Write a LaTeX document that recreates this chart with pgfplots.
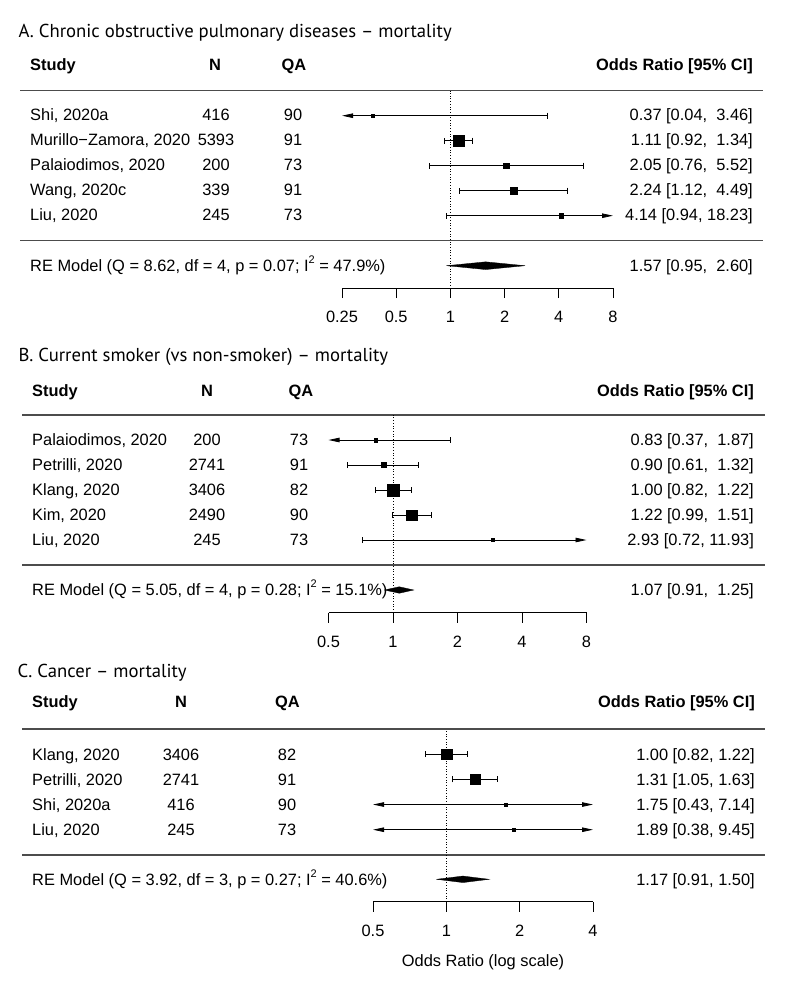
\documentclass[border=0pt]{standalone}
\usepackage{fontspec}
\setmainfont{Liberation Sans}
\newfontfamily\titlefont{PT Sans}
\usepackage{pgfplots}
\pgfplotsset{compat=1.18}
\usetikzlibrary{arrows.meta}
\newcommand\fs{\fontsize{16.4}{19}\selectfont}
\newcommand\tfs{\titlefont\fontsize{18.7}{21}\selectfont}
\pgfplotsset{
  every axis/.append style={
    scale only axis, anchor=south west,
    axis x line*=bottom, axis y line=none,
    tick align=outside, major tick length=10pt,
    axis line style={black, line width=0.8pt},
    xtick style={black, line width=0.8pt},
    clip=false, enlargelimits=false,
    xticklabel style={font=\fs, anchor=base, inner sep=0pt, yshift=-24.5pt},
  },
}
\tikzset{
  ci/.style={black, line width=0.8pt},
  sq/.style={only marks, mark=square*, black},
  dia/.style={fill=black, draw=black, line width=0.3pt},
  refl/.style={black, dotted, line width=0.7pt},
  L/.style={anchor=base west, inner sep=0pt},
  C/.style={anchor=base, inner sep=0pt},
  R/.style={anchor=base east, inner sep=0pt},
  sep/.style={black!70, line width=1.3pt},
  BB/.style={arrows={Bar[width=6pt]-Bar[width=6pt]}},
  TB/.style={arrows={Triangle[length=11pt,width=4.5pt]-Bar[width=6pt]}},
  BT/.style={arrows={Bar[width=6pt]-Triangle[length=11pt,width=4.5pt]}},
  TT/.style={arrows={Triangle[length=11pt,width=4.5pt]-Triangle[length=11pt,width=4.5pt]}},
}
\newcommand\sqd[1]{\raisebox{0.45em}{\fontsize{11}{11}\selectfont #1}}
\begin{document}
\begin{tikzpicture}[x=1pt, y=-1pt, font=\fs]
\useasboundingbox (0,0) rectangle (787,984);

% ================= Panel A =================
\node[L, font=\tfs] at (18.3,38) {A. Chronic obstructive pulmonary diseases – mortality};
\node[L, font=\fs\bfseries] at (30,71) {Study};
\node[C, font=\fs\bfseries] at (215,71) {N};
\node[C, font=\fs\bfseries] at (294,71) {QA};
\node[R, font=\fs\bfseries] at (753,71) {Odds Ratio [95\% CI]};
\draw[sep] (20,90.7) -- (763,90.7);
\draw[sep] (20,240.7) -- (763,240.7);
\node[L] at (30,121) {Shi, 2020a};            \node[C] at (216,121) {416};  \node[C] at (293,121) {90};
\node[L] at (30,146) {Murillo−Zamora, 2020};  \node[C] at (216,146) {5393}; \node[C] at (293,146) {91};
\node[L] at (30,171) {Palaiodimos, 2020};     \node[C] at (216,171) {200};  \node[C] at (293,171) {73};
\node[L] at (30,196) {Wang, 2020c};           \node[C] at (216,196) {339};  \node[C] at (293,196) {91};
\node[L] at (30,221) {Liu, 2020};             \node[C] at (216,221) {245};  \node[C] at (293,221) {73};
\node[R] at (753,121) {0.37 [0.04,~~3.46]};
\node[R] at (753,146) {1.11 [0.92,~~1.34]};
\node[R] at (753,171) {2.05 [0.76,~~5.52]};
\node[R] at (753,196) {2.24 [1.12,~~4.49]};
\node[R] at (753,221) {4.14 [0.94, 18.23]};
\node[L] at (30,271) {RE Model (Q = 8.62, df = 4, p = 0.07; I\sqd{2} = 47.9\%)};
\node[R] at (753,271) {1.57 [0.95,~~2.60]};

\begin{axis}[xmode=log, log basis x=2, at={(342pt,-288.2pt)}, width=271pt, height=197.5pt,
  xmin=0.25, xmax=8, ymin=-1.9, ymax=6,
  xtick={0.25,0.5,1,2,4,8}, xticklabels={0.25,0.5,1,2,4,8}]
\addplot[refl] coordinates {(1,-1.9) (1,6)};
% study CIs (clipped at axis limits with arrows)
\addplot[ci, TB] coordinates {(0.25,5) (3.46,5)};   % 0.04 - 3.46
\addplot[ci, BB] coordinates {(0.92,4) (1.34,4)};
\addplot[ci, BB] coordinates {(0.76,3) (5.52,3)};
\addplot[ci, BB] coordinates {(1.12,2) (4.49,2)};
\addplot[ci, BT] coordinates {(0.94,1) (8,1)};      % 0.94 - 18.23
\addplot[sq, mark size=1.5pt] coordinates {(0.37,5)};
\addplot[sq, mark size=5.3pt] coordinates {(1.11,4)};
\addplot[sq, mark size=2.9pt] coordinates {(2.05,3)};
\addplot[sq, mark size=3.4pt] coordinates {(2.24,2)};
\addplot[sq, mark size=2.2pt] coordinates {(4.14,1)};
\addplot[dia] coordinates {(0.95,-1) (1.57,-0.845) (2.60,-1) (1.57,-1.155) (0.95,-1)};
\end{axis}

% ================= Panel B =================
\node[L, font=\tfs] at (18.3,361.5) {B. Current smoker (vs non-smoker) – mortality};
\node[L, font=\fs\bfseries] at (32,396) {Study};
\node[C, font=\fs\bfseries] at (207,396) {N};
\node[C, font=\fs\bfseries] at (301,396) {QA};
\node[R, font=\fs\bfseries] at (754,396) {Odds Ratio [95\% CI]};
\draw[sep] (22,415) -- (765,415);
\draw[sep] (22,565) -- (765,565);
\node[L] at (32,445.3) {Palaiodimos, 2020}; \node[C] at (207,445.3) {200};  \node[C] at (299,445.3) {73};
\node[L] at (32,470.3) {Petrilli, 2020};    \node[C] at (207,470.3) {2741}; \node[C] at (299,470.3) {91};
\node[L] at (32,495.3) {Klang, 2020};       \node[C] at (207,495.3) {3406}; \node[C] at (299,495.3) {82};
\node[L] at (32,520.3) {Kim, 2020};         \node[C] at (207,520.3) {2490}; \node[C] at (299,520.3) {90};
\node[L] at (32,545.3) {Liu, 2020};         \node[C] at (207,545.3) {245};  \node[C] at (299,545.3) {73};
\node[R] at (754,445.3) {0.83 [0.37,~~1.87]};
\node[R] at (754,470.3) {0.90 [0.61,~~1.32]};
\node[R] at (754,495.3) {1.00 [0.82,~~1.22]};
\node[R] at (754,520.3) {1.22 [0.99,~~1.51]};
\node[R] at (754,545.3) {2.93 [0.72, 11.93]};
\node[L] at (32,595.3) {RE Model (Q = 5.05, df = 4, p = 0.28; I\sqd{2} = 15.1\%)};
\node[R] at (754,595.3) {1.07 [0.91,~~1.25]};

\begin{axis}[xmode=log, log basis x=2, at={(328.5pt,-612.5pt)}, width=258pt, height=197.5pt,
  xmin=0.5, xmax=8, ymin=-1.9, ymax=6,
  xtick={0.5,1,2,4,8}, xticklabels={0.5,1,2,4,8}]
\addplot[refl] coordinates {(1,-1.9) (1,6)};
\addplot[ci, TB] coordinates {(0.5,5) (1.87,5)};    % 0.37 - 1.87
\addplot[ci, BB] coordinates {(0.61,4) (1.32,4)};
\addplot[ci, BB] coordinates {(0.82,3) (1.22,3)};
\addplot[ci, BB] coordinates {(0.99,2) (1.51,2)};
\addplot[ci, BT] coordinates {(0.72,1) (8,1)};      % 0.72 - 11.93
\addplot[sq, mark size=1.7pt] coordinates {(0.83,5)};
\addplot[sq, mark size=2.5pt] coordinates {(0.90,4)};
\addplot[sq, mark size=5.8pt] coordinates {(1.00,3)};
\addplot[sq, mark size=5.3pt] coordinates {(1.22,2)};
\addplot[sq, mark size=1.5pt] coordinates {(2.93,1)};
\addplot[dia] coordinates {(0.91,-1) (1.07,-0.87) (1.25,-1) (1.07,-1.13) (0.91,-1)};
\end{axis}

% ================= Panel C =================
\node[L, font=\tfs] at (17.5,677) {C. Cancer – mortality};
\node[L, font=\fs\bfseries] at (32,707) {Study};
\node[C, font=\fs\bfseries] at (181,707) {N};
\node[C, font=\fs\bfseries] at (287.5,707) {QA};
\node[R, font=\fs\bfseries] at (755,707) {Odds Ratio [95\% CI]};
\draw[sep] (22,729) -- (765,729);
\draw[sep] (22,855) -- (765,855);
\node[L] at (32,760) {Klang, 2020};     \node[C] at (181,760) {3406}; \node[C] at (287,760) {82};
\node[L] at (32,785.2) {Petrilli, 2020}; \node[C] at (181,785.2) {2741}; \node[C] at (287,785.2) {91};
\node[L] at (32,810.4) {Shi, 2020a};     \node[C] at (181,810.4) {416};  \node[C] at (287,810.4) {90};
\node[L] at (32,835.6) {Liu, 2020};      \node[C] at (181,835.6) {245};  \node[C] at (287,835.6) {73};
\node[R] at (755,760) {1.00 [0.82, 1.22]};
\node[R] at (755,785.2) {1.31 [1.05, 1.63]};
\node[R] at (755,810.4) {1.75 [0.43, 7.14]};
\node[R] at (755,835.6) {1.89 [0.38, 9.45]};
\node[L] at (32,885) {RE Model (Q = 3.92, df = 3, p = 0.27; I\sqd{2} = 40.6\%)};
\node[R] at (755,885) {1.17 [0.91, 1.50]};
\node[C] at (483,966.5) {Odds Ratio (log scale)};

\begin{axis}[xmode=log, log basis x=2, at={(373pt,-901.7pt)}, width=220pt, height=172.7pt,
  xmin=0.5, xmax=4, ymin=-1.86, ymax=5,
  xtick={0.5,1,2,4}, xticklabels={0.5,1,2,4}]
\addplot[refl] coordinates {(1,-1.86) (1,5)};
\addplot[ci, BB] coordinates {(0.82,4) (1.22,4)};
\addplot[ci, BB] coordinates {(1.05,3) (1.63,3)};
\addplot[ci, TT] coordinates {(0.5,2) (4,2)};       % 0.43 - 7.14
\addplot[ci, TT] coordinates {(0.5,1) (4,1)};       % 0.38 - 9.45
\addplot[sq, mark size=5.4pt] coordinates {(1.00,4)};
\addplot[sq, mark size=5.2pt] coordinates {(1.31,3)};
\addplot[sq, mark size=1.5pt] coordinates {(1.75,2)};
\addplot[sq, mark size=1.5pt] coordinates {(1.89,1)};
\addplot[dia] coordinates {(0.91,-0.97) (1.17,-0.84) (1.50,-0.97) (1.17,-1.10) (0.91,-0.97)};
\end{axis}
\end{tikzpicture}
\end{document}
